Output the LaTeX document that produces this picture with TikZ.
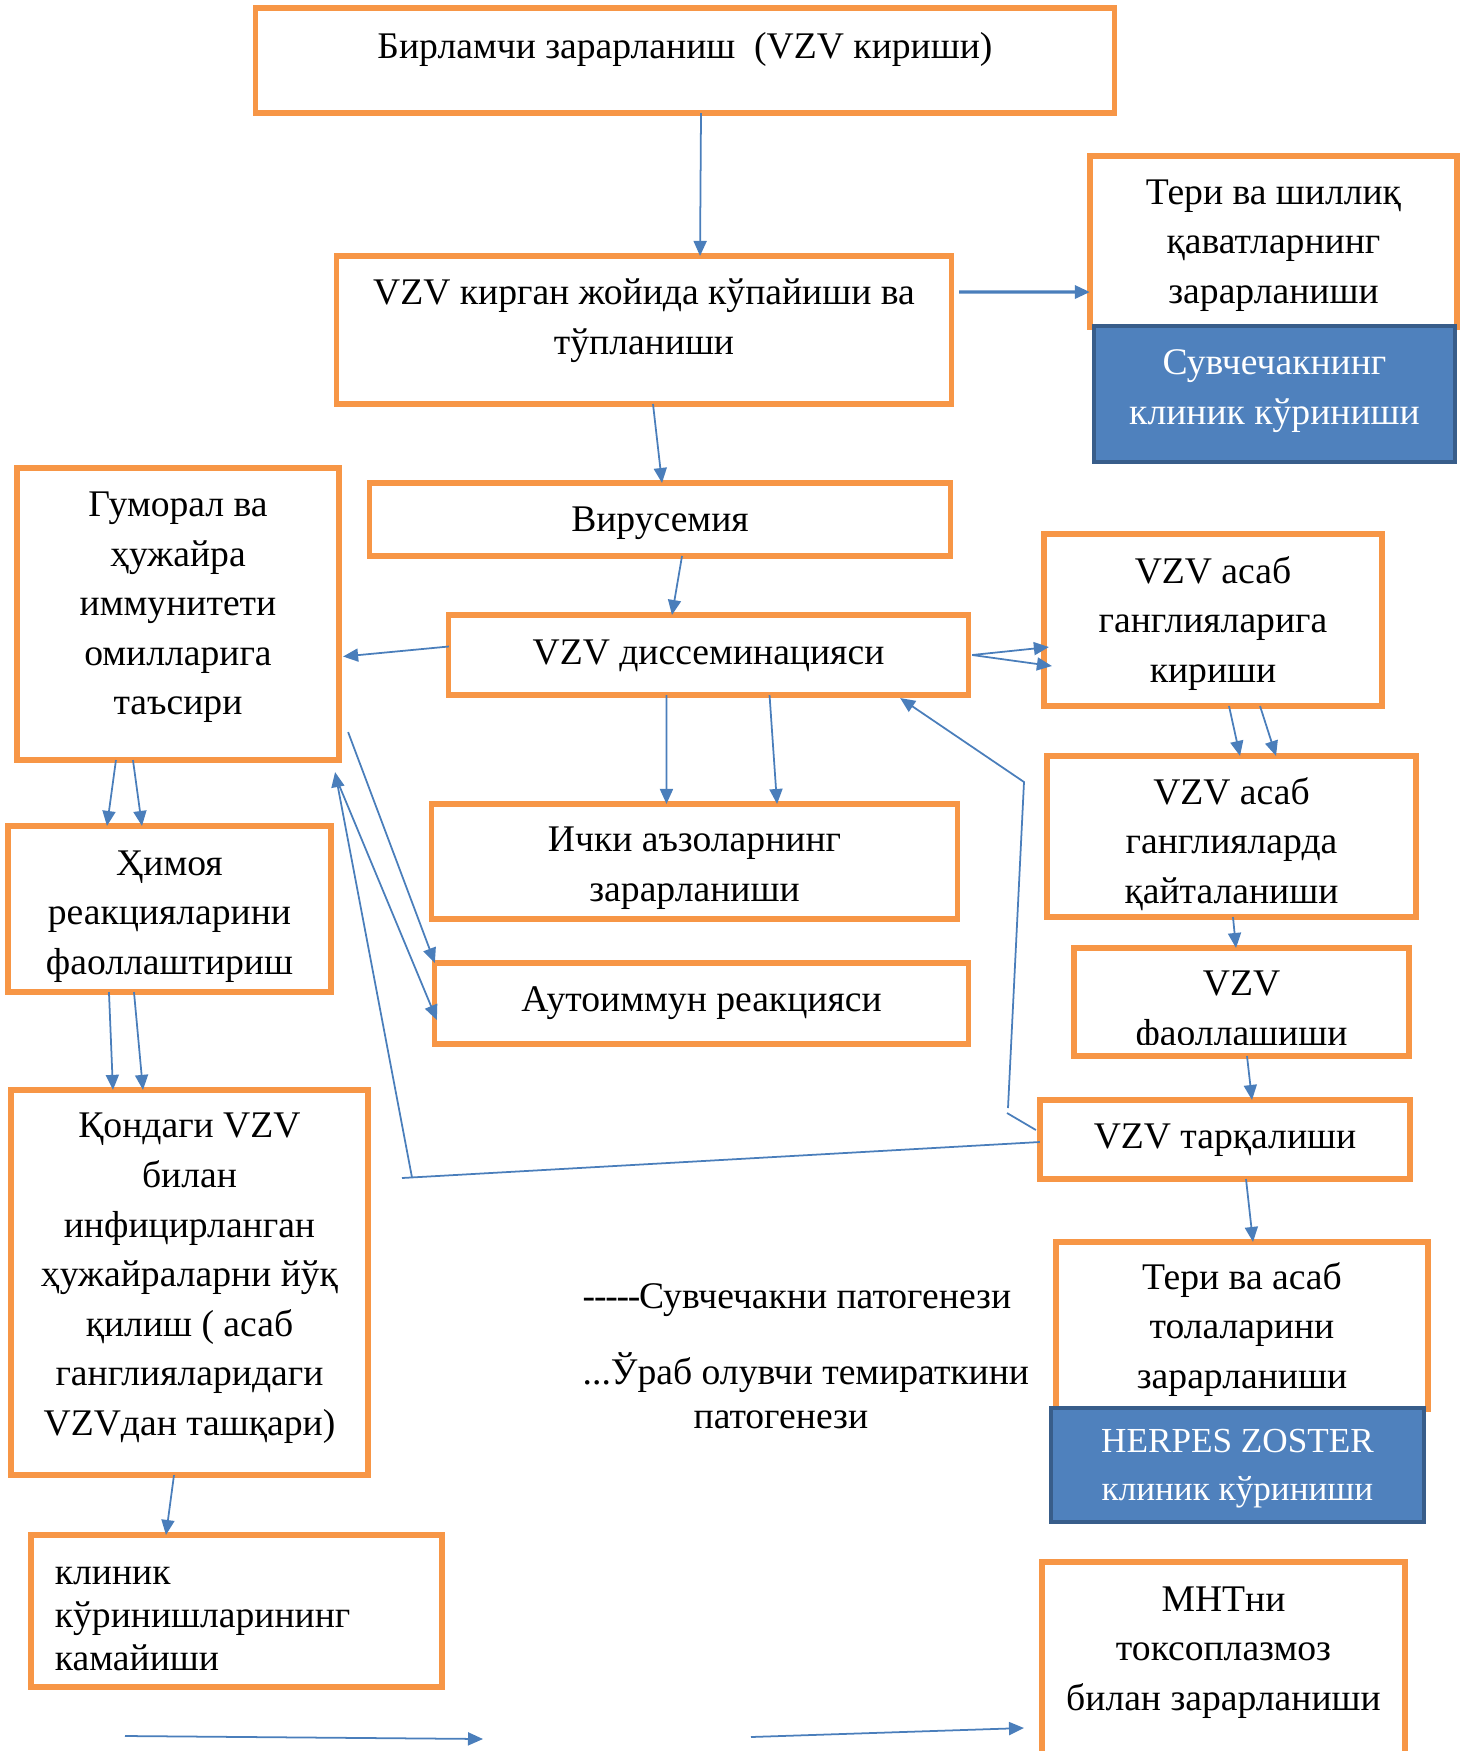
\documentclass[tikz,border=0pt]{standalone}
\usepackage{fontspec}
\setmainfont{Liberation Serif}
\usetikzlibrary{arrows.meta}
\definecolor{boxorange}{HTML}{F79646}
\definecolor{linkblue}{HTML}{4A7EBB}
\definecolor{blockblue}{HTML}{4F81BD}
\definecolor{blockedge}{HTML}{385D8A}
\tikzstyle{box} = [draw=boxorange, line width=1.5pt, align=center, inner sep=0pt, outer sep=0pt, font={\fontsize{10.7}{14.1}\selectfont}]
\tikzstyle{clinic} = [box, draw=blockedge, fill=blockblue, text=white, line width=1.2pt]
\tikzstyle{link} = [draw=linkblue, line width=0.5pt]
\tikzstyle{arr} = [link, -{Triangle[length=0.15cm,width=0.13cm]}]
\tikzstyle{note} = [align=center, inner sep=0pt, font={\fontsize{10.7}{12.5}\selectfont}]
\tikzset{wh/.style 2 args={minimum width=#1cm, minimum height=#2cm}}

\begin{document}
\begin{tikzpicture}[x=0.01cm,y=-0.01cm]
  \useasboundingbox (0,0) rectangle (1465,1751);
  \node[box,wh={8.58}{1.05},text depth=8.7pt](top) at (685,60.5){Бирламчи зарарланиш\ \ (VZV кириши)};
  \node[box,wh={6.14}{1.48},text depth=7.6pt](acc) at (644,330){VZV кирган жойида кўпайиши ва\\тўпланиши};
  \node[box,wh={3.67}{1.71},text depth=0.1pt](skin) at (1273.5,241.5){Тери ва шиллиқ\\қаватларнинг\\зарарланиши};
  \node[clinic,wh={3.61}{1.36},text depth=4pt](varc) at (1274.5,394){Сувчечакнинг\\клиник кўриниши};
  \node[box,wh={5.80}{0.73},text depth=0pt](vir) at (660,519.5){Вирусемия};
  \node[box,wh={3.22}{2.92},text depth=6pt](hum) at (178,614){Гуморал ва\\ҳужайра\\иммунитети\\омилларига\\таъсири};
  \node[box,wh={5.19}{0.80},text depth=1.7pt](dis) at (708.5,655){VZV диссеминацияси};
  \node[box,wh={3.38}{1.72},text depth=0.4pt](gin) at (1213,620){VZV асаб\\ганглияларига\\кириши};
  \node[box,wh={5.25}{1.15},text height=22.5pt,text depth=0pt](org) at (694.5,861.5){Ички аъзоларнинг\\зарарланиши};
  \node[box,wh={3.23}{1.66},text height=37.2pt,text depth=0pt](def) at (169.5,909){Ҳимоя\\реакцияларини\\фаоллаштириш};
  \node[box,wh={3.69}{1.61},text height=38pt,text depth=0pt](rep) at (1231.5,836.5){VZV асаб\\ганглияларда\\қайталаниши};
  \node[box,wh={5.33}{0.81}](auto) at (701.5,1003.5){Аутоиммун реакцияси};
  \node[box,wh={3.35}{1.08}](act) at (1241.5,1002){};
  \begin{scope}
    \clip (1077,951) rectangle (1406,1044);
    \node[box,draw=none,text depth=0pt](actlabel) at (1241.5,1008){VZV\\фаоллашиши};
  \end{scope}
  \node[box,wh={3.70}{0.79},text depth=1.7pt](spr) at (1225,1139.5){VZV тарқалиши};
  \node[box,wh={3.57}{3.85},text depth=4.6pt](blood) at (189.5,1282.5){Қондаги VZV\\билан\\инфицирланган\\ҳужайраларни йўқ\\қилиш ( асаб\\ганглияларидаги\\VZVдан ташқари)};
  \node[box,wh={3.72}{1.67},text depth=0pt](nerve) at (1242,1325.5){Тери ва асаб\\толаларини\\зарарланиши};
  \node[clinic,wh={3.73}{1.14},text depth=0pt,font={\fontsize{10}{13.6}\selectfont}](hz) at (1237.5,1465){HERPES ZOSTER\\клиник кўриниши};
  \node[box,wh={4.11}{1.52},text width=3.63cm,align=left,text depth=20.1pt,font={\fontsize{10.7}{12.2}\selectfont}](red) at (236.5,1611){клиник\\кўринишларининг\\камайиши};
  \node[box,wh={3.63}{2.38},text depth=18.6pt](cns) at (1223.5,1681){МНТни\\токсоплазмоз\\билан зарарланиши};
  \node[note,anchor=west](leg1) at (582,1300.5){-\kern-0.35pt-\kern-0.35pt-\kern-0.35pt-\kern-0.35pt-\kern-0.4ptСувчечакни патогенези};
  \node[note,anchor=west](leg2) at (582,1391){...Ўраб олувчи темираткини\\\hspace*{-0.5cm}патогенези};
  \draw[arr] ([xshift=0.16cm]top.south) -- ([xshift=0.56cm]acc.north);
  \draw[arr,line width=0.9pt] ([shift={(0.08cm,0.38cm)}]acc.east) -- ([yshift=-0.505cm]skin.west);
  \draw[arr] ([xshift=0.09cm]acc.south) -- ([xshift=0.02cm]vir.north);
  \draw[arr] ([xshift=0.22cm]vir.south) -- ([xshift=-0.365cm]dis.north);
  \draw[arr] ([yshift=0.085cm]dis.west) -- ([shift={(0.04cm,-0.425cm)}]hum.east);
  \draw[arr] ([xshift=0.04cm]dis.east) -- ([shift={(0.05cm,-0.27cm)}]gin.west);
  \draw[arr] ([xshift=0.04cm]dis.east) -- ([shift={(0.08cm,-0.46cm)}]gin.west);
  \draw[arr] ([xshift=-0.42cm]dis.south) -- ([xshift=-0.28cm]org.north);
  \draw[arr] ([xshift=0.61cm]dis.south) -- ([xshift=0.825cm]org.north);
  \draw[arr] ([xshift=0.16cm]gin.south) -- ([xshift=0.085cm]rep.north);
  \draw[arr] ([xshift=0.47cm]gin.south) -- ([xshift=0.445cm]rep.north);
  \draw[arr] ([xshift=0.015cm]rep.south) -- ([xshift=-0.055cm]act.north);
  \draw[arr] ([xshift=0.055cm]act.south) -- ([xshift=0.27cm]spr.north);
  \draw[arr] ([xshift=0.21cm]spr.south) -- ([xshift=0.11cm]nerve.north);
  \draw[arr] ([xshift=-0.62cm]hum.south) -- ([xshift=-0.625cm]def.north);
  \draw[arr] ([xshift=-0.45cm]hum.south) -- ([xshift=-0.275cm]def.north);
  \draw[arr] ([xshift=-0.605cm]def.south) -- ([xshift=-0.765cm]blood.north);
  \draw[arr] ([xshift=-0.355cm]def.south) -- ([xshift=-0.465cm]blood.north);
  \draw[arr] ([xshift=-0.155cm]blood.south) -- ([xshift=-0.705cm]red.north);
  \draw[arr] ([shift={(0.09cm,-1.18cm)}]hum.east) -- (auto.north west);
  \draw[arr] ([yshift=-0.25cm]hum.south east) -- ([shift={(0.02cm,-0.165cm)}]auto.west);
  \coordinate (back1) at (412,1177.5);
  \coordinate (back1end) at (402,1178);
  \draw[link] ([yshift=-0.025cm]spr.west) -- (back1end);
  \draw[arr] (back1) -- ([shift={(-0.04cm,-0.12cm)}]hum.south east);
  \coordinate (back2a) at (1007,1113);
  \coordinate (back2b) at (1008,1108);
  \coordinate (back2c) at (1024,782);
  \draw[link] ([shift={(-0.04cm,0.095cm)}]spr.west) -- (back2a);
  \draw[arr] (back2b) -- (back2c) -- ([shift={(-0.68cm,-0.03cm)}]dis.south east);
  \coordinate (free1) at (125,1736);
  \coordinate (free1end) at (483,1739);
  \draw[arr] (free1) -- (free1end);
  \coordinate (free2) at (751,1737);
  \coordinate (free2end) at (1024,1728);
  \draw[arr] (free2) -- (free2end);
\end{tikzpicture}
\end{document}
